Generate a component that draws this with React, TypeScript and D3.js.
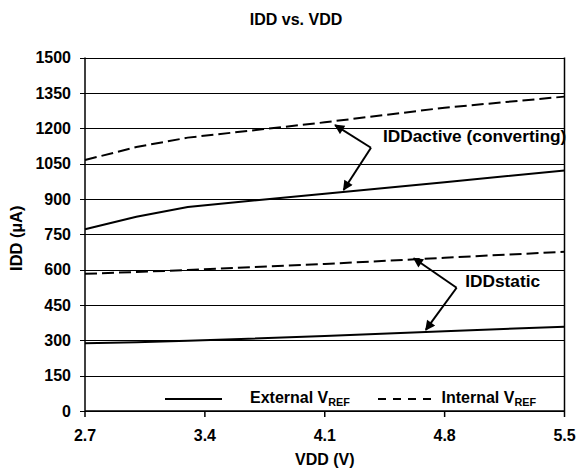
import React from "react";
import * as d3 from "d3";

const vdd = [2.7, 3.0, 3.3, 4.1, 4.8, 5.5];
const activeExternal = [771, 824, 866, 922, 971, 1020];
const activeInternal = [1065, 1120, 1160, 1225, 1287, 1334];
const staticExternal = [287, 292, 298, 318, 338, 358];
const staticInternal = [582, 590, 598, 624, 650, 676];
const xTicks = [2.7, 3.4, 4.1, 4.8, 5.5];
const yTicks = [0, 150, 300, 450, 600, 750, 900, 1050, 1200, 1350, 1500];

// annotation anchors in data units
const activeLabel = { text: "IDDactive (converting)", x: 4.44, y: 1141 };
const activeVertex = { x: 4.37, y: 1117 };
const activeTips = [
  { x: 4.16, y: 1213 },
  { x: 4.21, y: 938 },
];
const staticLabel = { text: "IDDstatic", x: 4.92, y: 528 };
const staticVertex = { x: 4.87, y: 523 };
const staticTips = [
  { x: 4.62, y: 648 },
  { x: 4.69, y: 344 },
];

const W = 578;
const H = 474;
const L = 85;
const R = 564.5;
const T = 57.5;
const B = 411;
const FONT = "'Liberation Sans', Arial, sans-serif";

export default function App() {
  const x = d3.scaleLinear().domain([2.7, 5.5]).range([L, R]);
  const y = d3.scaleLinear().domain([0, 1500]).range([B, T]);
  const line = d3
    .line<number>()
    .x((_, i) => x(vdd[i]))
    .y((d) => y(d));

  const series = [
    { data: activeExternal, dash: undefined },
    { data: activeInternal, dash: "12,5" },
    { data: staticExternal, dash: undefined },
    { data: staticInternal, dash: "12,5" },
  ];

  const arrows = [
    ...activeTips.map((t) => ({ from: activeVertex, to: t })),
    ...staticTips.map((t) => ({ from: staticVertex, to: t })),
  ];

  return (
    <svg
      width={W}
      height={H}
      style={{ position: "absolute", left: 0, top: 0, background: "#fff" }}
      fontFamily={FONT}
      fontWeight="bold"
    >
      <defs>
        <marker
          id="ah"
          viewBox="0 0 10 10"
          refX="9"
          refY="5"
          markerWidth="6"
          markerHeight="5"
          markerUnits="strokeWidth"
          orient="auto"
        >
          <path d="M0,0 L10,5 L0,10 z" fill="#000" />
        </marker>
      </defs>
      <rect x={0} y={0} width={W} height={H} fill="#fff" />
      <text x={W / 2 + 7} y={25} textAnchor="middle" fontSize={16}>
        IDD vs. VDD
      </text>

      {/* gridlines */}
      {yTicks.map((t) => (
        <g key={t}>
          <line
            x1={L - 5}
            x2={R}
            y1={Math.round(y(t)) + 0.5}
            y2={Math.round(y(t)) + 0.5}
            stroke="#000"
            strokeWidth={1}
          />
          <text
            x={L - 14}
            y={y(t)}
            dy="0.36em"
            textAnchor="end"
            fontSize={16}
          >
            {t}
          </text>
        </g>
      ))}
      {/* axes */}
      <line x1={L} x2={L} y1={T} y2={B} stroke="#000" strokeWidth={1.5} />
      <line x1={R} x2={R} y1={T} y2={B} stroke="#000" strokeWidth={1.5} />
      <line x1={L} x2={R} y1={B} y2={B} stroke="#000" strokeWidth={1.5} />
      {xTicks.map((t) => (
        <g key={t}>
          <line x1={x(t)} x2={x(t)} y1={B} y2={B + 6} stroke="#000" strokeWidth={1.5} />
          <text x={x(t)} y={441} textAnchor="middle" fontSize={16}>
            {t.toFixed(1)}
          </text>
        </g>
      ))}
      <text x={x(4.1)} y={465} textAnchor="middle" fontSize={16}>
        VDD (V)
      </text>
      <text
        transform={`translate(22,${(T + B) / 2 + 4}) rotate(-90)`}
        textAnchor="middle"
        fontSize={16.5}
      >
        IDD (µA)
      </text>

      {/* series */}
      {series.map((s, i) => (
        <path
          key={i}
          d={line(s.data) || ""}
          fill="none"
          stroke="#000"
          strokeWidth={2}
          strokeDasharray={s.dash}
        />
      ))}

      {/* annotations */}
      {arrows.map((a, i) => (
        <line
          key={i}
          x1={x(a.from.x)}
          y1={y(a.from.y)}
          x2={x(a.to.x)}
          y2={y(a.to.y)}
          stroke="#000"
          strokeWidth={2}
          markerEnd="url(#ah)"
        />
      ))}
      <text x={x(activeLabel.x)} y={y(activeLabel.y)} fontSize={17.3}>
        {activeLabel.text}
      </text>
      <text x={x(staticLabel.x)} y={y(staticLabel.y)} fontSize={17.3}>
        {staticLabel.text}
      </text>

      {/* legend */}
      <line x1={165} x2={222} y1={399} y2={399} stroke="#000" strokeWidth={2} />
      <text x={250} y={402.5} fontSize={16}>
        External V
        <tspan fontSize={10.8} dy={3.5}>
          REF
        </tspan>
      </text>
      <line
        x1={378}
        x2={431}
        y1={399}
        y2={399}
        stroke="#000"
        strokeWidth={2}
        strokeDasharray="8,7"
      />
      <text x={441.5} y={402.5} fontSize={16}>
        Internal V
        <tspan fontSize={10.8} dy={3.5}>
          REF
        </tspan>
      </text>
    </svg>
  );
}
